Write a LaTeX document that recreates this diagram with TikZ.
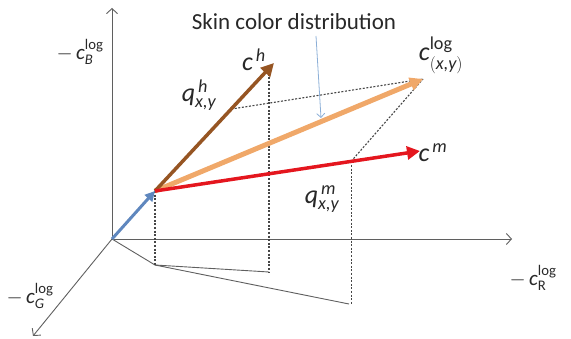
\documentclass[tikz,border=0pt]{standalone}
\usepackage{amsmath}
\usepackage{fontspec}
\setmainfont{Carlito}
\usetikzlibrary{arrows.meta,calc}
\definecolor{axisgray}{RGB}{95,95,95}
\definecolor{dashgray}{RGB}{70,70,70}
\definecolor{brownarr}{RGB}{150,85,35}
\definecolor{orangearr}{RGB}{240,168,105}
\definecolor{redarr}{RGB}{228,22,30}
\definecolor{bluearr}{RGB}{95,135,190}
\definecolor{pointblue}{RGB}{140,175,215}
\definecolor{txt}{RGB}{40,40,40}
\tikzset{
  axisline/.style={draw=axisgray,line width=0.9pt,-{Straight Barb[length=5pt,width=11pt]}},
  projline/.style={draw=axisgray,line width=0.9pt},
  dashline/.style={draw=dashgray,line width=1.1pt,dash pattern=on 2pt off 1.6pt},
  vecarrow/.style={line width=#1,-{Triangle[length=13pt,width=13pt]}},
  biglbl/.style={inner sep=0pt,text=txt,font=\fontsize{26}{26}\selectfont},
  axlbl/.style={inner sep=0pt,text=txt,font=\fontsize{21}{21}\selectfont},
}
\begin{document}
\begin{tikzpicture}[x=1pt,y=-1pt]
\path[use as bounding box] (0,0) rectangle (571,339);
% coordinates
\coordinate (O) at (112,239);
\coordinate (Btop) at (112,8);
\coordinate (Rend) at (512,239);
\coordinate (Gend) at (33,336);
\coordinate (P) at (155,191);
\coordinate (Ch) at (274,63);
\coordinate (Cl) at (423,79);
\coordinate (Cm) at (420,151);
\coordinate (Pb) at (155,265);
\coordinate (Cht) at (269,70);
\coordinate (Chb) at (269,272);
\coordinate (Mb) at (349,304);
\coordinate (Qh) at ($(P)!0.64!(Ch)$);
\coordinate (Qm) at ($(P)!0.74!(Cm)$);
\coordinate (Mbt) at (Qm |- Mb);
% axes
\draw[axisline] (O) -- (Btop);
\draw[axisline] (O) -- (Rend);
\draw[axisline] (O) -- (Gend);
% floor projections
\draw[projline] (O) -- (Pb);
\draw[projline] (Pb) -- (Chb);
\draw[projline] (Pb) -- (Mb);
% dashed lines
\draw[dashline] (P) -- (Pb);
\draw[dashline] (Cht) -- (Chb);
\draw[dashline] (Qm) -- (Mbt);
\draw[dashline] (Qh) -- (Cl);
\draw[dashline] (Qm) -- (Cl);
% vectors
\draw[vecarrow=5pt,draw=orangearr,fill=orangearr] (P) -- (Cl);
\draw[vecarrow=3.5pt,draw=brownarr,fill=brownarr] (P) -- (Ch);
\draw[vecarrow=3.5pt,draw=redarr,fill=redarr] (P) -- (Cm);
\draw[vecarrow=3pt,draw=bluearr,fill=bluearr,-{Triangle[length=10pt,width=10pt]}] (O) -- (P);
% title and pointer
\node[inner sep=0pt,text=txt,font=\fontsize{23}{23}\selectfont] (title) at (294,22) {Skin color distribution};
\coordinate (ptip) at (321,118);
\draw[draw=pointblue,line width=0.8pt,-{Straight Barb[length=4pt,width=8pt]}] (316,36) -- (ptip);
% labels
\node[biglbl] (lch) at (254,60) {$\textit{c}^{\,\textit{h}}$};
\node[biglbl] (lqh) at (199,95) {$\textit{q}^{\,\textit{h}}_{\textit{x,y}}$};
\node[biglbl] (lcl) at (441,55) {$\textit{c}^{\text{log}}_{(\textit{x,y})}$};
\node[biglbl] (lcm) at (433,153) {$\textit{c}^{\,\textit{m}}$};
\node[biglbl] (lqm) at (322,199) {$\textit{q}^{\,\textit{m}}_{\textit{x,y}}$};
\node[axlbl] (lb) at (80,52) {$-\,\textit{c}^{\text{log}}_{\textit{B}}$};
\node[axlbl] (lg) at (30,296) {$-\,\textit{c}^{\text{log}}_{\textit{G}}$};
\node[axlbl] (lr) at (533,278) {$-\,\textit{c}^{\text{log}}_{\text{R}}$};
\end{tikzpicture}
\end{document}
